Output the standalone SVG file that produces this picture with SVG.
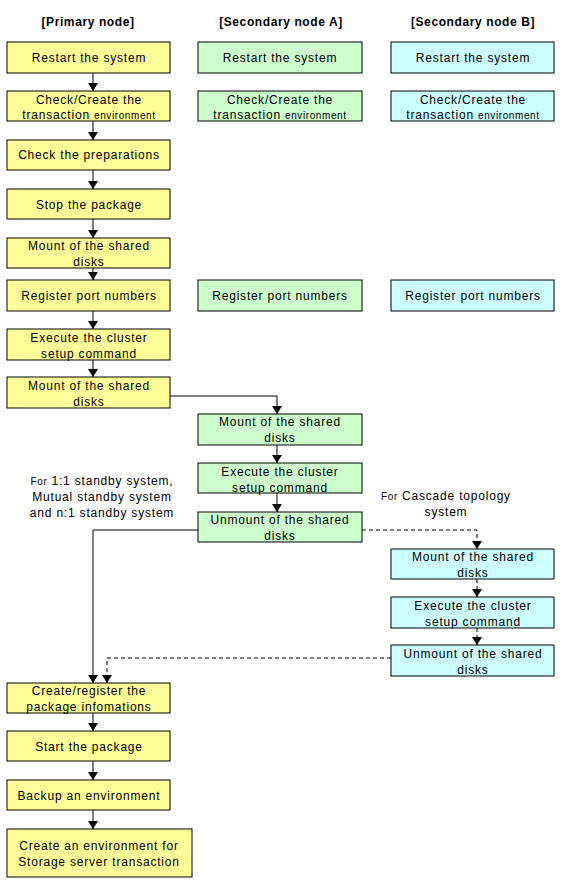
<svg xmlns="http://www.w3.org/2000/svg" width="564" height="888" viewBox="0 0 564 888">
<style>
.b{stroke:#000;stroke-width:1}
.y{fill:#FFFF99}.g{fill:#CCFFCC}.c{fill:#CCFFFF}
text{font-family:"Liberation Sans",Arial,sans-serif;font-size:12px;letter-spacing:0.8px;fill:#000;text-anchor:middle}
.h{font-weight:bold;font-size:12px;letter-spacing:0.6px}
.s{font-size:10px;letter-spacing:0.6px}
.l{fill:none;stroke:#000;stroke-width:1}
.d{stroke-dasharray:4,3}
</style>
<defs>
<marker id="ah" viewBox="0 0 10 10" refX="10" refY="5" markerWidth="8" markerHeight="10" markerUnits="userSpaceOnUse" orient="auto" preserveAspectRatio="none">
<path d="M0,0 L10,5 L0,10 z" fill="#000"/>
</marker>
</defs>
<rect width="564" height="888" fill="#fff"/>
<g id="headers">
<text class="h" x="88" y="26">[Primary node]</text>
<text class="h" x="281" y="26">[Secondary node A]</text>
<text class="h" x="473" y="26">[Secondary node B]</text>
</g>
<g id="connectors">
<path class="l" d="M93,73 V91" marker-end="url(#ah)"/>
<path class="l" d="M93,121 V140" marker-end="url(#ah)"/>
<path class="l" d="M93,170 V189" marker-end="url(#ah)"/>
<path class="l" d="M93,219 V238" marker-end="url(#ah)"/>
<path class="l" d="M93,268 V280" marker-end="url(#ah)"/>
<path class="l" d="M93,311 V329" marker-end="url(#ah)"/>
<path class="l" d="M93,360 V377" marker-end="url(#ah)"/>
<path class="l" d="M170,396 H277 V414" marker-end="url(#ah)"/>
<path class="l" d="M277,445 V463" marker-end="url(#ah)"/>
<path class="l" d="M277,493 V512" marker-end="url(#ah)"/>
<path class="l" d="M198,530 H93 V683" marker-end="url(#ah)"/>
<path class="l d" d="M362,530 H477 V549" marker-end="url(#ah)"/>
<path class="l d" d="M477,579 V597" marker-end="url(#ah)"/>
<path class="l d" d="M477,628 V645" marker-end="url(#ah)"/>
<path class="l d" d="M391,658 H107 V683" marker-end="url(#ah)"/>
<path class="l" d="M93,713 V731" marker-end="url(#ah)"/>
<path class="l" d="M93,761 V780" marker-end="url(#ah)"/>
<path class="l" d="M93,810 V829" marker-end="url(#ah)"/>
</g>
<g id="p1"><rect class="b y" x="7" y="42" width="163" height="31"/><text x="89" y="62">Restart the system</text></g>
<g id="p2"><rect class="b y" x="7" y="91" width="163" height="30"/><text x="89" y="104">Check/Create the</text><text x="89" y="119">transaction <tspan class="s">environment</tspan></text></g>
<g id="p3"><rect class="b y" x="7" y="140" width="163" height="30"/><text x="89" y="159">Check the preparations</text></g>
<g id="p4"><rect class="b y" x="7" y="189" width="163" height="30"/><text x="89" y="209">Stop the package</text></g>
<g id="p5"><rect class="b y" x="7" y="238" width="163" height="30"/><text x="89" y="250">Mount of the shared</text><text x="89" y="266">disks</text></g>
<g id="p6"><rect class="b y" x="7" y="280" width="163" height="31"/><text x="89" y="300">Register port numbers</text></g>
<g id="p7"><rect class="b y" x="7" y="329" width="163" height="31"/><text x="89" y="342">Execute the cluster</text><text x="89" y="358">setup command</text></g>
<g id="p8"><rect class="b y" x="7" y="377" width="163" height="31"/><text x="89" y="390">Mount of the shared</text><text x="89" y="406">disks</text></g>
<g id="p9"><rect class="b y" x="7" y="683" width="163" height="30"/><text x="89" y="695">Create/register the</text><text x="89" y="711">package infomations</text></g>
<g id="p10"><rect class="b y" x="7" y="731" width="163" height="30"/><text x="89" y="751">Start the package</text></g>
<g id="p11"><rect class="b y" x="7" y="780" width="163" height="30"/><text x="89" y="800">Backup an environment</text></g>
<g id="p12"><rect class="b y" x="7" y="829" width="185" height="48"/><text x="99" y="850">Create an environment for</text><text x="99" y="866">Storage server transaction</text></g>
<g id="a1"><rect class="b g" x="198" y="42" width="164" height="31"/><text x="280" y="62">Restart the system</text></g>
<g id="a2"><rect class="b g" x="198" y="91" width="164" height="30"/><text x="280" y="104">Check/Create the</text><text x="280" y="119">transaction <tspan class="s">environment</tspan></text></g>
<g id="a3"><rect class="b g" x="198" y="280" width="164" height="31"/><text x="280" y="300">Register port numbers</text></g>
<g id="a4"><rect class="b g" x="198" y="414" width="164" height="31"/><text x="280" y="426">Mount of the shared</text><text x="280" y="442">disks</text></g>
<g id="a5"><rect class="b g" x="198" y="463" width="164" height="30"/><text x="280" y="476">Execute the cluster</text><text x="280" y="492">setup command</text></g>
<g id="a6"><rect class="b g" x="198" y="512" width="164" height="30"/><text x="280" y="524">Unmount of the shared</text><text x="280" y="540">disks</text></g>
<g id="b1"><rect class="b c" x="391" y="42" width="163" height="31"/><text x="473" y="62">Restart the system</text></g>
<g id="b2"><rect class="b c" x="391" y="91" width="163" height="30"/><text x="473" y="104">Check/Create the</text><text x="473" y="119">transaction <tspan class="s">environment</tspan></text></g>
<g id="b3"><rect class="b c" x="391" y="280" width="163" height="31"/><text x="473" y="300">Register port numbers</text></g>
<g id="b4"><rect class="b c" x="391" y="549" width="163" height="30"/><text x="473" y="561">Mount of the shared</text><text x="473" y="577">disks</text></g>
<g id="b5"><rect class="b c" x="391" y="597" width="163" height="31"/><text x="473" y="610">Execute the cluster</text><text x="473" y="626">setup command</text></g>
<g id="b6"><rect class="b c" x="391" y="645" width="163" height="31"/><text x="473" y="658">Unmount of the shared</text><text x="473" y="674">disks</text></g>
<g id="labels">
<text x="102" y="485"><tspan class="s">For</tspan> 1:1 standby system,</text>
<text x="102" y="501">Mutual standby system</text>
<text x="102" y="517">and n:1 standby system</text>
<text x="446" y="500"><tspan class="s">For</tspan> Cascade topology</text>
<text x="446" y="516">system</text>
</g>
</svg>
